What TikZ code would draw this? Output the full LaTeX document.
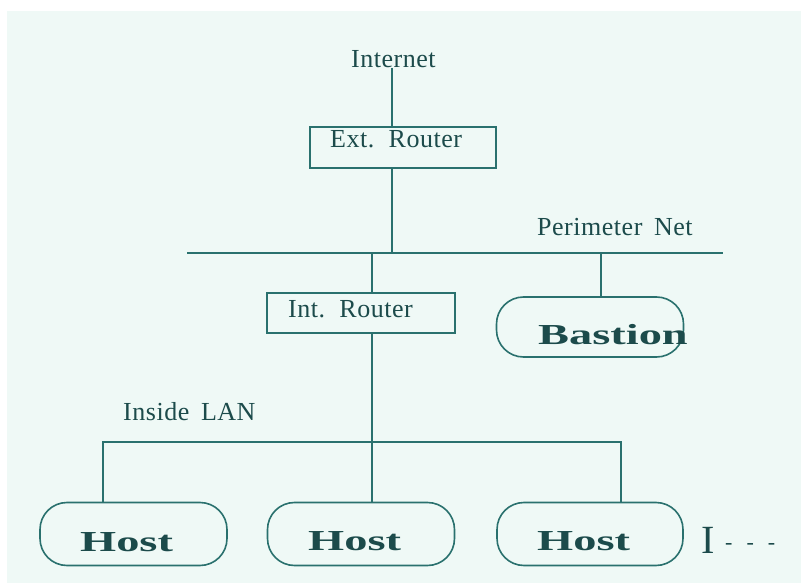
\documentclass[tikz,border=0pt]{standalone}
\usepackage{fontspec}
\setmainfont{Liberation Serif}[LetterSpace=2]
\newfontfamily\wideboldfont{Liberation Serif}[FakeStretch=1.6]
\definecolor{bgmint}{HTML}{EFF9F6}
\definecolor{wirecol}{HTML}{2A716E}
\definecolor{textcol}{HTML}{1C4B4B}
\tikzset{
  wire/.style={draw=wirecol, line width=1.6pt},
  routerbox/.style={draw=wirecol, line width=1.6pt, rectangle, inner sep=0pt},
  hostbox/.style={draw=wirecol, line width=1.6pt, rectangle, rounded corners=27pt, inner sep=0pt},
  lbl/.style={anchor=base west, inner sep=0pt, text=textcol, font=\fontsize{26}{30}\selectfont},
  biglbl/.style={anchor=base west, inner sep=0pt, text=textcol, font=\wideboldfont\bfseries\fontsize{29}{32}\selectfont},
}
\begin{document}
\begin{tikzpicture}[x=1pt,y=-1pt]
\useasboundingbox (0,0) rectangle (801,583);
\fill[white] (0,0) rectangle (801,583);
\fill[bgmint] (7,11) rectangle (801,583);

% boxes
\node[routerbox, minimum width=186pt, minimum height=41pt] (ext) at (403,147.5) {};
\node[routerbox, minimum width=188pt, minimum height=40pt] (int) at (361,313) {};
\node[hostbox, minimum width=187pt, minimum height=60pt] (bastion) at (590,327) {};
\node[hostbox, minimum width=187pt, minimum height=63pt] (host1) at (133.5,534) {};
\node[hostbox, minimum width=187pt, minimum height=63pt] (host2) at (361,534) {};
\node[hostbox, minimum width=186pt, minimum height=63pt] (host3) at (590,534) {};

% bus coordinates
\coordinate (inetfoot) at (392,68);
\coordinate (pl) at (187,253);
\coordinate (pr) at (723,253);
\coordinate (intx) at (372,253);
\coordinate (bx) at (601,253);
\coordinate (ll) at (103,442);
\coordinate (lr) at (621,442);

% connectors
\draw[wire] (inetfoot) -- (inetfoot |- ext.north);
\draw[wire] (ext.south -| inetfoot) -- (inetfoot |- pl);
\draw[wire] (pl) -- (pr);
\draw[wire] (intx) -- (intx |- int.north);
\draw[wire] (bx) -- (bx |- bastion.north);
\draw[wire] (int.south -| intx) -- (intx |- ll);
\draw[wire] (host1.north -| ll) -- (ll) -- (lr) -- (lr |- host3.north);
\draw[wire] (intx |- ll) -- (intx |- host2.north);

% labels
\node[lbl] (inettxt) at (351,68) {Internet};
\node[lbl] (exttxt) at (330,148) {Ext.\hspace{0.55em}Router};
\node[lbl] (perimtxt) at (537,235) {Perimeter\hspace{0.45em}Net};
\node[lbl] (inttxt) at (288,317) {Int.\hspace{0.55em}Router};
\node[lbl] (lantxt) at (123,420) {Inside\hspace{0.45em}LAN};
\node[biglbl] (bastiontxt) at (538,344) {Bastion};
\node[biglbl] (host1txt) at (80,551) {Host};
\node[biglbl] (host2txt) at (308,550) {Host};
\node[biglbl] (host3txt) at (537,550) {Host};
\node[anchor=base west, inner sep=0pt, text=textcol, font=\fontsize{40}{40}\selectfont] (moretxt) at (701,553) {I};
\node[anchor=base west, inner sep=0pt, text=textcol, font=\fontsize{22}{24}\selectfont] (dashtxt) at (725,549) {-\hspace{14pt}-\hspace{14pt}-};
\end{tikzpicture}
\end{document}
